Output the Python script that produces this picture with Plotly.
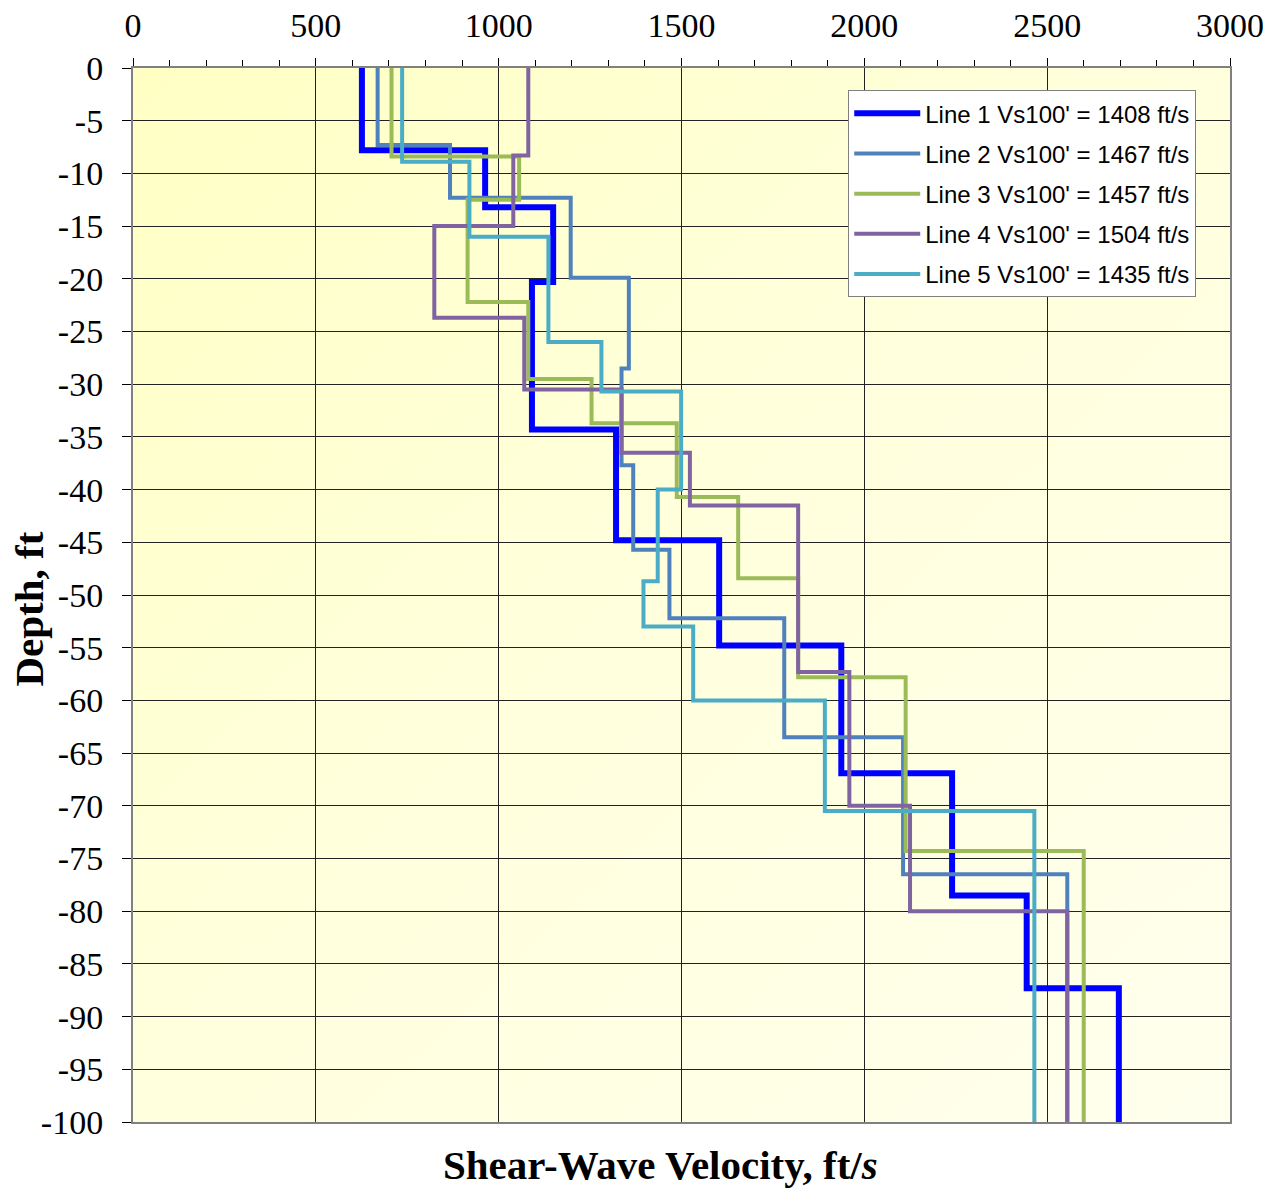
import base64
import plotly.graph_objects as go

# ---------------- data ----------------
line_names = [
    "Line 1 Vs100' = 1408 ft/s",
    "Line 2 Vs100' = 1467 ft/s",
    "Line 3 Vs100' = 1457 ft/s",
    "Line 4 Vs100' = 1504 ft/s",
    "Line 5 Vs100' = 1435 ft/s",
]

line1_vs = [626, 963, 1149, 1091, 1321, 1603, 1937, 2240, 2444, 2696]
line1_depth = [0, -7.8, -13.2, -20.3, -34.3, -44.8, -54.8, -66.9, -78.5, -87.3, -100]

line2_vs = [669, 867, 1197, 1356, 1336, 1368, 1467, 1781, 2106, 2555]
line2_depth = [0, -7.3, -12.3, -19.9, -28.5, -37.7, -45.7, -52.2, -63.5, -76.5, -100]

line3_vs = [707, 1056, 915, 1081, 1254, 1487, 1655, 1819, 2113, 2600]
line3_depth = [0, -8.4, -12.5, -22.2, -29.5, -33.7, -40.7, -48.4, -57.8, -74.3, -100]

line4_vs = [1081, 1040, 824, 1070, 1336, 1523, 1819, 1959, 2125, 2555]
line4_depth = [0, -8.3, -15.0, -23.7, -30.5, -36.5, -41.5, -57.3, -70.0, -80.0, -100]

line5_vs = [736, 920, 1136, 1281, 1499, 1435, 1396, 1532, 1892, 2465]
line5_depth = [0, -8.9, -16.0, -26.0, -30.7, -40.0, -48.7, -53.0, -60.0, -70.5, -100]

x_ticks = [0, 500, 1000, 1500, 2000, 2500, 3000]
y_ticks = list(range(0, -101, -5))

# ---------------- styles ----------------
colors = ["#0000FF", "#4F81BD", "#9BBB59", "#8064A2", "#4BACC6"]
widths = [6, 4, 4, 4, 4]
series = [
    (line1_vs, line1_depth),
    (line2_vs, line2_depth),
    (line3_vs, line3_depth),
    (line4_vs, line4_depth),
    (line5_vs, line5_depth),
]


def step_profile(vs, depth):
    xs, ys = [], []
    for i, v in enumerate(vs):
        xs += [v, v]
        ys += [depth[i], depth[i + 1]]
    return xs, ys


fig = go.Figure()
for i, (vs, dp) in enumerate(series):
    xs, ys = step_profile(vs, dp)
    fig.add_trace(go.Scatter(
        x=xs, y=ys, mode="lines", name=line_names[i],
        legendgroup=f"g{i}",
        line=dict(color=colors[i], width=widths[i]),
    ))

# gradient background (yellow, brighter at top-left)
svg = (
    '<svg xmlns="http://www.w3.org/2000/svg" width="100" height="100" preserveAspectRatio="none">'
    '<defs><linearGradient id="g" x1="0" y1="0" x2="1" y2="1">'
    '<stop offset="0" stop-color="#FFFFC4"/>'
    '<stop offset="0.45" stop-color="#FFFFDC"/>'
    '<stop offset="1" stop-color="#FFFFEE"/>'
    '</linearGradient></defs>'
    '<rect width="100" height="100" fill="url(#g)"/></svg>'
)
src = "data:image/svg+xml;base64," + base64.b64encode(svg.encode()).decode()

serif = "Liberation Serif, Times New Roman, serif"

fig.update_layout(
    width=1280, height=1188,
    margin=dict(l=133, r=50, t=68, b=66),
    paper_bgcolor="white",
    plot_bgcolor="#FFFFDC",
    images=[dict(source=src, xref="paper", yref="paper", x=0, y=1,
                 sizex=1, sizey=1, sizing="stretch", layer="below",
                 xanchor="left", yanchor="top")],
    showlegend=True,
    legend=dict(
        x=0.652, y=0.979, xanchor="left", yanchor="top",
        bgcolor="white", bordercolor="#808080", borderwidth=1,
        font=dict(family="Liberation Sans, Arial, sans-serif", size=24, color="black"),
        tracegroupgap=6, traceorder="grouped", itemwidth=66,
    ),
    xaxis=dict(
        range=[0, 3000], side="top", tickvals=x_ticks,
        ticktext=[str(t) for t in x_ticks],
        ticks="outside", ticklen=8, tickcolor="black",
        tickfont=dict(family=serif, size=34, color="black"),
        ticklabelstandoff=7, automargin=False,
        showgrid=True, gridcolor="#222222", gridwidth=1,
        showline=True, linecolor="#808080", linewidth=2, mirror=True,
        zeroline=False,
        minor=dict(dtick=100, ticks="outside", ticklen=6, tickcolor="black", showgrid=False),
    ),
    yaxis=dict(
        range=[-100, 0], tickvals=y_ticks,
        ticktext=[str(t) for t in y_ticks],
        ticks="outside", ticklen=9, tickcolor="black",
        tickfont=dict(family=serif, size=34, color="black"),
        ticklabelstandoff=12, automargin=False,
        showgrid=True, gridcolor="#222222", gridwidth=1,
        showline=True, linecolor="#808080", linewidth=2, mirror=True,
        zeroline=False,
    ),
    annotations=[
        dict(text="<b>Shear-Wave Velocity, ft/<i>s</i></b>", xref="paper", yref="paper",
             x=0.481, y=-0.0408, xanchor="center", yanchor="middle", showarrow=False,
             font=dict(family=serif, size=41, color="black")),
        dict(text="<b>Depth, ft</b>", xref="paper", yref="paper",
             x=-0.095, y=0.487, xanchor="center", yanchor="middle", showarrow=False,
             textangle=-90, font=dict(family=serif, size=41, color="black")),
    ],
)

fig.write_html("out.html")
